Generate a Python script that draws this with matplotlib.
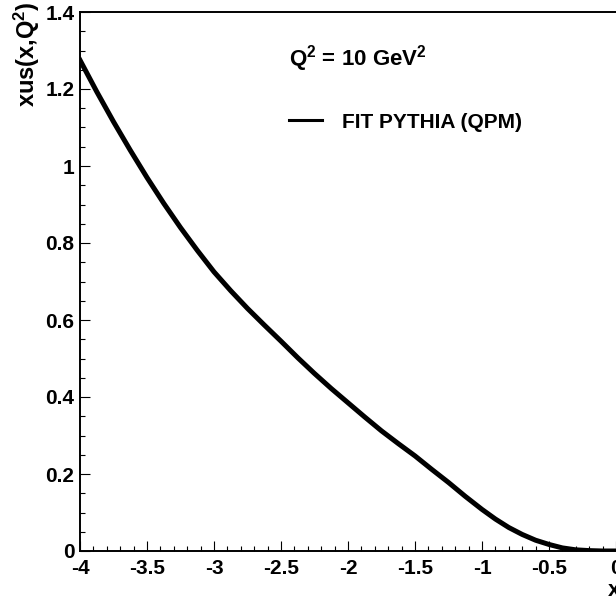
import numpy as np
from matplotlib import pyplot as plt
from matplotlib.ticker import MultipleLocator

# Values

x_vals = [-4.0, -3.875, -3.75, -3.625, -3.5, -3.375, -3.25, -3.125, -3.0,
          -2.875, -2.75, -2.625, -2.5, -2.375, -2.25, -2.125, -2.0,
          -1.875, -1.75, -1.625, -1.5, -1.375, -1.25, -1.125, -1.0,
          -0.9, -0.8, -0.7, -0.6, -0.5, -0.4, -0.3, -0.2, -0.1, 0.0]
xus_vals = [1.275, 1.193, 1.115, 1.041, 0.970, 0.903, 0.840, 0.781, 0.725,
            0.676, 0.630, 0.587, 0.545, 0.502, 0.461, 0.422, 0.385,
            0.348, 0.312, 0.279, 0.247, 0.212, 0.178, 0.142, 0.108,
            0.083, 0.061, 0.043, 0.028, 0.017, 0.008, 0.003, 0.001, 0.0, 0.0]

x_ticks = [-4, -3.5, -3, -2.5, -2, -1.5, -1, -0.5, 0]
x_labels = ["-4", "-3.5", "-3", "-2.5", "-2", "-1.5", "-1", "-0.5", "0"]
y_ticks = [0, 0.2, 0.4, 0.6, 0.8, 1.0, 1.2, 1.4]
y_labels = ["0", "0.2", "0.4", "0.6", "0.8", "1", "1.2", "1.4"]

plt.rcParams['font.family'] = ['Liberation Sans', 'DejaVu Sans']
plt.rcParams['font.weight'] = 'bold'
plt.rcParams['mathtext.default'] = 'regular'

W, H = 616, 598
fig = plt.figure(figsize=(W / 100, H / 100), dpi=100)

# axes frame in pixels: left 80, right 616, top 12, bottom 551
ax = fig.add_axes([80 / W, (H - 551) / H, (616 - 80) / W, (551 - 12) / H])

ax.plot(x_vals, xus_vals, c="black", lw=3.6, solid_joinstyle="round")

ax.set_xlim(-4, 0)
ax.set_ylim(0, 1.4)

ax.set_xticks(x_ticks)
ax.set_xticklabels(x_labels)
ax.set_yticks(y_ticks)
ax.set_yticklabels(y_labels)
ax.xaxis.set_minor_locator(MultipleLocator(0.1))
ax.yaxis.set_minor_locator(MultipleLocator(0.05))

ax.tick_params(which="both", direction="in", top=False, right=False,
               labelsize=15, width=0.8)
ax.tick_params(which="major", length=7)
ax.tick_params(which="minor", length=3.5)
ax.tick_params(axis="x", pad=6)
ax.tick_params(axis="y", pad=4)

for s in ["left", "bottom", "top"]:
    ax.spines[s].set_linewidth(1.4)
ax.spines["right"].set_visible(False)

# axis titles (ROOT style, at the ends of the axes)
fig.text(27 / W, 1 - 2 / H, "xus(x,Q$^2$)", rotation=90, ha="center",
         va="top", fontsize=17, fontweight="bold")
fig.text(608 / W, 1 - 591 / H, "x", ha="left", va="center",
         fontsize=16, fontweight="bold")

# annotation and legend
fig.text(289 / W, 1 - 66 / H, "Q$^2$ = 10 GeV$^2$", ha="left",
         va="baseline", fontsize=16, fontweight="bold")
fig.add_artist(plt.Line2D([289 / W, 322 / W], [1 - 120 / H, 1 - 120 / H],
                          color="black", lw=2.2))
fig.text(342 / W, 1 - 122 / H, "FIT PYTHIA (QPM)", ha="left", va="center",
         fontsize=15, fontweight="bold")

fig.savefig("out.png", dpi=100)
